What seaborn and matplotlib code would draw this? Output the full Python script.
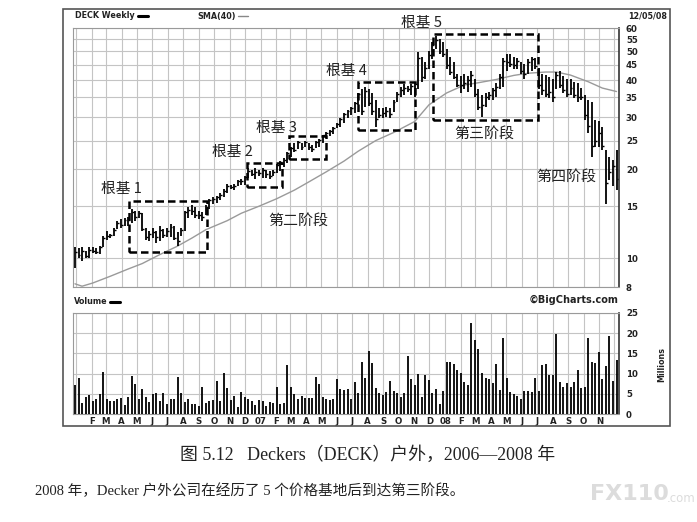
import numpy as np
import pandas as pd
import matplotlib
matplotlib.use("Agg")
import matplotlib.pyplot as plt
import seaborn as sns
from matplotlib.patches import Rectangle
from matplotlib.lines import Line2D

# ---------------- data ----------------
high = [10.9, 10.8, 10.9, 10.6, 10.9, 10.9, 10.8, 11.0, 11.9, 12.4, 12.1, 12.7, 13.4, 13.6, 13.7, 13.8,
        14.7, 14.5, 14.5, 14.2, 12.7, 12.4, 12.7, 12.4, 12.9, 12.6, 12.7, 13.1, 12.9, 12.3, 12.7, 14.5,
        14.9, 15.1, 14.9, 14.5, 14.3, 15.1,
        15.9, 16.1, 16.3, 16.6, 17.1, 17.8, 17.7, 17.8, 18.4, 18.6, 19.0,
        20.2, 19.9, 20.2, 19.9, 20.2, 19.9, 19.7, 19.9, 20.9, 21.4,
        21.8, 22.9, 23.8,
        24.5, 25.0, 24.5, 25.0, 24.5, 24.2, 25.0, 25.3, 26.2,
        26.7, 27.2, 27.8, 28.7, 29.8, 31.0, 31.8, 32.4, 33.8,
        36.3, 37.2, 37.9, 37.2, 36.3, 34.4, 32.2, 32.2, 32.4, 32.2, 34.4, 36.6, 37.9, 38.7, 38.1, 38.7, 39.5,
        49.6, 47.9, 46.0, 50.0, 53.7, 56.5, 55.0, 53.7, 50.8, 48.0, 46.0, 41.8, 41.3, 41.8, 41.3, 42.9,
        40.2, 37.2, 35.7, 36.3, 36.6, 37.5, 39.0, 41.8, 47.6, 48.9, 48.9, 48.0, 47.6, 46.0, 45.4, 47.0,
        48.0, 47.6,
        44.0, 42.0, 41.5, 41.0, 40.2, 42.6, 43.0, 41.3, 40.2, 40.5, 39.5, 39.0, 37.5, 35.7, 34.4, 33.8,
        29.4, 29.0, 27.8, 23.2, 22.0, 21.5, 23.2]
low = [9.3, 10.0, 9.8, 10.0, 10.0, 10.4, 10.35, 10.35, 10.9, 11.5, 11.7, 11.9, 12.6, 12.7, 12.9, 12.9,
       13.2, 13.4, 13.7, 12.4, 11.5, 11.4, 11.7, 11.3, 11.4, 11.7, 11.8, 11.8, 11.5, 11.0, 11.9, 12.4,
       13.7, 14.0, 13.7, 13.6, 13.4, 14.0,
       14.7, 15.3, 15.4, 15.7, 16.1, 16.6, 17.1, 17.0, 17.5, 17.7, 17.7,
       18.7, 19.0, 18.5, 19.0, 18.7, 18.7, 18.5, 19.0, 19.4, 19.8,
       20.4, 21.0, 22.0,
       22.9, 23.4, 23.3, 23.8, 23.3, 22.9, 23.6, 23.8, 24.5,
       25.5, 25.8, 26.4, 27.5, 27.8, 28.7, 29.8, 30.6, 31.0,
       33.0, 30.6, 32.4, 32.6, 30.6, 27.8, 29.8, 29.8, 30.0, 29.8, 31.2, 33.8, 35.0, 35.7, 36.6, 35.7, 35.0,
       37.2, 39.5, 40.5, 43.5, 47.0, 50.8, 48.9, 48.0, 43.5, 41.6, 40.2, 37.9, 36.3, 37.2, 36.6, 37.9,
       35.0, 31.8, 30.0, 32.4, 34.4, 34.4, 35.0, 37.2, 37.9, 42.9, 44.4, 43.5, 43.5, 41.8, 40.2, 41.8,
       42.9, 43.5,
       37.2, 35.7, 35.0, 34.8, 33.8, 37.2, 37.5, 36.3, 35.0, 35.5, 34.8, 33.8, 34.4, 29.4, 26.6, 22.0,
       23.8, 23.8, 23.2, 15.3, 18.4, 17.6, 17.0]
close = [10.5, 10.3, 10.6, 10.2, 10.7, 10.6, 10.5, 10.9, 11.7, 11.9, 12.0, 12.5, 13.2, 13.0, 13.5, 13.5,
         14.3, 13.8, 14.2, 12.6, 11.8, 12.1, 12.3, 11.8, 12.5, 12.0, 12.4, 12.8, 11.7, 11.4, 12.5, 14.3,
         14.6, 14.4, 14.0, 14.0, 13.8, 14.9,
         15.7, 15.9, 16.1, 16.4, 16.9, 17.6, 17.4, 17.6, 18.2, 18.3, 18.8,
         19.8, 19.3, 19.6, 19.4, 19.9, 19.2, 19.0, 19.6, 20.7, 21.2,
         21.5, 22.7, 23.5,
         23.3, 24.7, 23.8, 24.8, 23.7, 23.4, 24.8, 25.1, 26.0,
         26.5, 27.0, 27.6, 28.4, 29.5, 30.8, 31.5, 32.1, 33.5,
         35.8, 31.5, 36.8, 33.5, 31.5, 29.5, 30.5, 31.0, 31.5, 30.8, 33.8, 35.8, 37.0, 37.5, 37.2, 38.2, 38.8,
         47.5, 41.0, 44.0, 48.5, 52.5, 54.5, 50.0, 49.0, 45.0, 42.5, 41.0, 38.5, 38.5, 39.0, 40.0, 41.5,
         36.0, 32.5, 33.0, 35.0, 35.5, 37.0, 38.0, 41.0, 46.5, 46.0, 45.5, 45.0, 46.5, 43.0, 42.0, 46.0,
         47.0, 44.5,
         38.5, 37.0, 36.0, 36.5, 35.0, 41.5, 38.5, 37.0, 36.0, 37.5, 35.5, 35.0, 35.0, 30.5, 28.0, 24.0,
         25.0, 26.5, 24.0, 18.0, 19.5, 20.5, 18.5]
volume = [7.2, 8.8, 2.6, 4.1, 4.7, 3.1, 3.6, 4.9, 10.5, 3.6,
          3.2, 3.2, 3.6, 4.0, 2.2, 4.3, 9.5, 7.4, 3.6, 6.2,
          4.3, 2.9, 4.9, 5.3, 3.1, 5.3, 2.5, 3.6, 3.8, 9.1,
          5.1, 2.9, 3.8, 2.4, 2.4, 2.0, 6.8, 2.8, 3.2, 3.5,
          8.2, 3.2, 10.1, 6.5, 3.5, 4.5, 1.7, 5.5, 4.3, 3.6,
          3.2, 2.2, 3.5, 3.3, 2.0, 3.0, 2.6, 6.8, 2.5, 2.8,
          12.1, 6.6, 5.0, 3.8, 4.5, 3.9, 4.0, 4.0, 9.1, 7.5,
          4.1, 3.6, 3.5, 3.8, 8.6, 6.2, 6.0, 6.3, 3.6, 7.8,
          5.1, 12.9, 8.8, 15.5,
          12.7, 6.5, 5.1, 4.6, 5.4, 8.2, 5.7, 5.1, 4.1, 5.3,
          14.3, 8.6, 7.1, 10.0, 4.1, 9.6, 8.3, 5.3, 6.3, 2.4,
          5.7, 12.9, 12.9, 12.5, 11.0, 10.2, 7.8, 7.2, 22.6, 18.2,
          16.0, 10.2, 9.0, 8.6, 7.7, 12.3, 6.0, 18.9, 9.0, 5.4, 4.9,
          4.5, 3.7, 5.8, 5.8, 5.5, 9.0, 5.7, 12.1, 12.3, 9.6,
          9.6, 19.7, 8.0, 6.7, 7.6, 6.6, 7.8, 11.0, 6.5, 6.6,
          18.7, 12.9, 12.7, 15.3, 8.6, 11.8, 19.2, 8.2, 13.3]
sma_week = [0, 2, 5, 10, 15, 19, 24, 29, 33, 37, 43, 47, 52, 57, 62, 66, 71, 76, 80, 85, 90, 96,
            100, 105, 110, 114, 119, 124, 128, 133, 136, 140, 145, 149, 153]
sma_value = [8.2, 8.05, 8.25, 8.7, 9.2, 9.6, 10.3, 11.0, 11.7, 12.5, 13.4, 14.2, 15.0, 15.9, 17.0,
             18.1, 19.6, 21.3, 23.0, 25.0, 26.6, 29.0, 33.0, 36.2, 38.5, 39.2, 40.2, 41.5, 42.2,
             42.6, 42.6, 41.6, 39.5, 37.6, 36.6]
first_week = "2005-12-30"
price_ticks = [8, 10, 15, 20, 25, 30, 35, 40, 45, 50, 55, 60]
volume_ticks = [0, 5, 10, 15, 20, 25]
base_labels = ["根基 1", "根基 2", "根基 3", "根基 4", "根基 5"]
base_label_week = [13, 44.4, 57, 76.8, 98]
base_label_price = [17.1, 22.9, 27.6, 43.1, 62.4]
box_week_start = [15.3, 48.6, 60.5, 80.0, 101.1]
box_week_end = [37.3, 58.5, 70.9, 96.0, 130.8]
box_price_low = [10.5, 17.4, 21.6, 27.2, 29.4]
box_price_high = [15.6, 21.0, 25.9, 39.3, 57.2]
stage_labels = ["第二阶段", "第三阶段", "第四阶段"]
stage_week = [63, 115.5, 138.7]
stage_price = [13.4, 26.3, 18.9]
caption = "图 5.12   Deckers（DECK）户外，2006—2008 年"
note = "2008 年，Decker 户外公司在经历了 5 个价格基地后到达第三阶段。"

# ---------------- figure ----------------
sns.set_style("white")
plt.rcParams["font.family"] = ["DejaVu Sans", "Noto Sans CJK SC"]
W, H = 697, 522
fig = plt.figure(figsize=(W / 100, H / 100), dpi=100)

def fx(px):
    return px / W

def fy(py):
    return 1 - py / H

grid_col = "#c4c4c4"
tick_font = dict(fontsize=6.2, fontweight="bold", color="#222222")
cjk = ["Noto Sans CJK SC", "DejaVu Sans"]
serif_cjk = ["Liberation Serif", "Noto Sans CJK SC"]

ax = fig.add_axes([fx(73), fy(287), fx(619) - fx(73), fy(28) - fy(287)])
axv = fig.add_axes([fx(73), fy(414), fx(619) - fx(73), fy(313) - fy(414)])

weeks = np.arange(len(high))
start = pd.Timestamp(first_week)
month_starts = pd.date_range("2006-01-01", "2008-12-01", freq="MS")
month_pos = [(m - start).days / 7 for m in month_starts]
month_lab = [(f"{m.year % 100:02d}" if m.month == 1 else m.strftime("%b")[0]) for m in month_starts]

for a in (ax, axv):
    a.set_xlim(-0.56, 153.7)
    for p in month_pos:
        a.axvline(p, color=grid_col, lw=0.8, zorder=0)
    for s in a.spines.values():
        s.set_color("#9a9a9a")
        s.set_linewidth(0.8)
    a.spines["right"].set_color("#333333")
    a.spines["right"].set_linewidth(1.2)
    a.yaxis.tick_right()
    a.tick_params(axis="y", length=0, pad=5)
    a.set_xticks([])
    a.set_xlabel("")
    a.set_ylabel("")

# price panel
ax.set_yscale("log")
ax.set_ylim(8, 60)
for t in price_ticks:
    ax.axhline(t, color=grid_col, lw=0.8, zorder=0)
ax.set_yticks(price_ticks)
ax.set_yticklabels([str(t) for t in price_ticks], **tick_font)
ax.yaxis.set_minor_locator(matplotlib.ticker.NullLocator())

ax.vlines(weeks, low, high, color="black", lw=1.3, zorder=3)
ax.hlines(close, weeks, weeks + 0.55, color="black", lw=1.0, zorder=3)

sns.lineplot(x=sma_week, y=sma_value, ax=ax, color="#9a9a9a", lw=1.0, zorder=2)
ax.set_xlabel("")
ax.set_ylabel("")

for x0, x1, y0, y1 in zip(box_week_start, box_week_end, box_price_low, box_price_high):
    ax.add_patch(Rectangle((x0, y0), x1 - x0, y1 - y0, fill=False, ec="black",
                           lw=1.8, ls=(0, (3, 1.6)), zorder=4))
for lab, x, y in zip(base_labels, base_label_week, base_label_price):
    ax.text(x, y, lab, family=cjk, fontsize=10.6, ha="center", va="center",
            color="#222222", clip_on=False, zorder=5)
for lab, x, y in zip(stage_labels, stage_week, stage_price):
    ax.text(x, y, lab, family=cjk, fontsize=10.8, ha="center", va="center",
            color="#222222", zorder=5)

# volume panel
axv.set_ylim(0, 25)
for t in volume_ticks:
    axv.axhline(t, color=grid_col, lw=0.8, zorder=0)
axv.set_yticks(volume_ticks)
axv.set_yticklabels([str(t) for t in volume_ticks], **tick_font)
axv.vlines(weeks, 0, volume, color="black", lw=1.3, zorder=3)
axv.set_xticks(month_pos[1:-1])
axv.set_xticklabels(month_lab[1:-1], **tick_font)
axv.tick_params(axis="x", length=0, pad=2)

# headers and frame
fig.patches.append(Rectangle((fx(63), fy(426)), fx(670) - fx(63), fy(9) - fy(426),
                             transform=fig.transFigure, fill=False, ec="#555555", lw=1.2))
hdr = dict(fontsize=5.8, fontweight="bold", color="#222222", va="center")
fig.text(fx(75), fy(16), "DECK Weekly", **hdr)
fig.lines.append(Line2D([fx(138), fx(148)], [fy(16), fy(16)], transform=fig.transFigure,
                        color="black", lw=2.2))
fig.text(fx(197), fy(16), "SMA(40)", **hdr)
fig.lines.append(Line2D([fx(238), fx(248)], [fy(16), fy(16)], transform=fig.transFigure,
                        color="#888888", lw=1.0))
fig.text(fx(667), fy(16), "12/05/08", ha="right", **hdr)
fig.text(fx(74), fy(302), "Volume", **hdr)
fig.lines.append(Line2D([fx(110), fx(120)], [fy(302), fy(302)], transform=fig.transFigure,
                        color="black", lw=2.2))
fig.text(fx(618), fy(300), "©BigCharts.com", ha="right", fontsize=7, fontweight="bold",
         color="#222222", va="center")
fig.text(fx(662), fy(365), "Millions", rotation=90, ha="center", va="center",
         fontsize=5.8, fontweight="bold", color="#222222")

# caption
fig.text(fx(368), fy(455), caption, family=serif_cjk, fontsize=12.9, ha="center", va="center",
         color="#222222")
fig.text(fx(35), fy(491), note, family=serif_cjk, fontsize=10.5, ha="left", va="center",
         color="#222222")
fig.text(fx(590), fy(494), "FX110", fontsize=16, fontweight="bold", color="#dcdcdc",
         ha="left", va="center")
fig.text(fx(667), fy(498), ".com", fontsize=8.5, color="#dcdcdc", ha="left", va="center")

fig.savefig("out.png", dpi=100)
